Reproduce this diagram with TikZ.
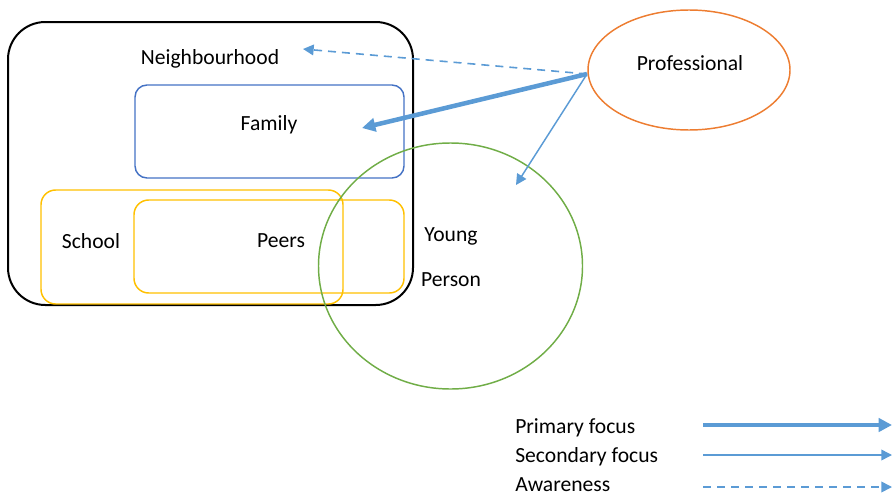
\documentclass[tikz,border=0pt]{standalone}
\usepackage{fontspec}
\setmainfont{Carlito}
\usetikzlibrary{positioning,shapes.geometric,arrows.meta,calc}
\definecolor{ysblack}{HTML}{000000}
\definecolor{ysblue}{HTML}{4472C4}
\definecolor{ysyellow}{HTML}{FFC000}
\definecolor{ysgreen}{HTML}{70AD47}
\definecolor{ysorange}{HTML}{ED7D31}
\definecolor{ysarrow}{HTML}{5B9BD5}

\begin{document}
\begin{tikzpicture}[
  x=0.75pt,y=-0.75pt,
  font=\fontsize{16.2}{19}\selectfont,
  area/.style={draw,rectangle,inner sep=0pt,line width=1.1pt},
  txt/.style={inner sep=0pt,text=black},
  prim/.style={-{Triangle[length=10pt,width=10pt]},line width=3.4pt,ysarrow},
  secd/.style={-{Triangle[length=8pt,width=8pt]},line width=1.1pt,ysarrow},
  aware/.style={-{Triangle[length=8pt,width=8pt]},line width=1.2pt,ysarrow,
                dash pattern=on 6pt off 4.5pt}]
\useasboundingbox (0,0) rectangle (892,496);

% ---- settings around the young person ----
\node[area,draw=ysblack,line width=1.5pt,rounded corners=28pt,
      minimum width=303.75pt,minimum height=212.25pt] (nbhd) at (210.5,163.5) {};
\node[area,draw=ysblue,rounded corners=9pt,
      minimum width=201.75pt,minimum height=69.75pt] (family) at (269.5,131.5) {};
\node[area,draw=ysyellow,rounded corners=11pt,
      minimum width=226.5pt,minimum height=85.5pt] (school) at (192,247) {};
\node[area,draw=ysyellow,rounded corners=11pt,
      minimum width=202.5pt,minimum height=69.75pt] (peers) at (269,246.5) {};
\node[ellipse,draw=ysgreen,line width=1.1pt,inner sep=0pt,
      minimum width=198pt,minimum height=184.5pt] (young) at (450.5,266) {};
\node[ellipse,draw=ysorange,line width=1.1pt,inner sep=0pt,
      minimum width=151.5pt,minimum height=90pt] (prof) at (689,70) {};

\node[txt] (nbhdlbl) at (210,59) {Neighbourhood};
\node[txt] (familylbl) at (269,125) {Family};
\node[txt] (schoollbl) at (91,241) {School};
\node[txt] (peerslbl) at (281,241) {Peers};
\node[txt] (younglbl) at (451,236) {Young};
\node[txt] (personlbl) at (451,280) {Person};
\node[txt] (proflbl) at (690,63) {Professional};

% ---- what the professional works on ----
\coordinate (src) at (587,74);
\coordinate (toNbhd) at (303,49);
\coordinate (toFamily) at (362,128);
\coordinate (toYoung) at (516,185);
\draw[aware] (src) -- (toNbhd);
\draw[prim] (src) -- (toFamily);
\draw[secd] (src) -- (toYoung);

% ---- legend ----
\node[txt,anchor=west] (lgprim) at (515,428) {Primary focus};
\node[txt,anchor=west] (lgsecd) at (515,457) {Secondary focus};
\node[txt,anchor=west] (lgaware) at (515,485) {Awareness};
\coordinate (lp0) at (703,425); \coordinate (lp1) at (892,425);
\coordinate (ls0) at (703,455); \coordinate (ls1) at (892,455);
\coordinate (la0) at (703,487); \coordinate (la1) at (892,487);
\draw[prim,line width=3pt] (lp0) -- (lp1);
\draw[secd] (ls0) -- (ls1);
\draw[aware] (la0) -- (la1);
\end{tikzpicture}
\end{document}
